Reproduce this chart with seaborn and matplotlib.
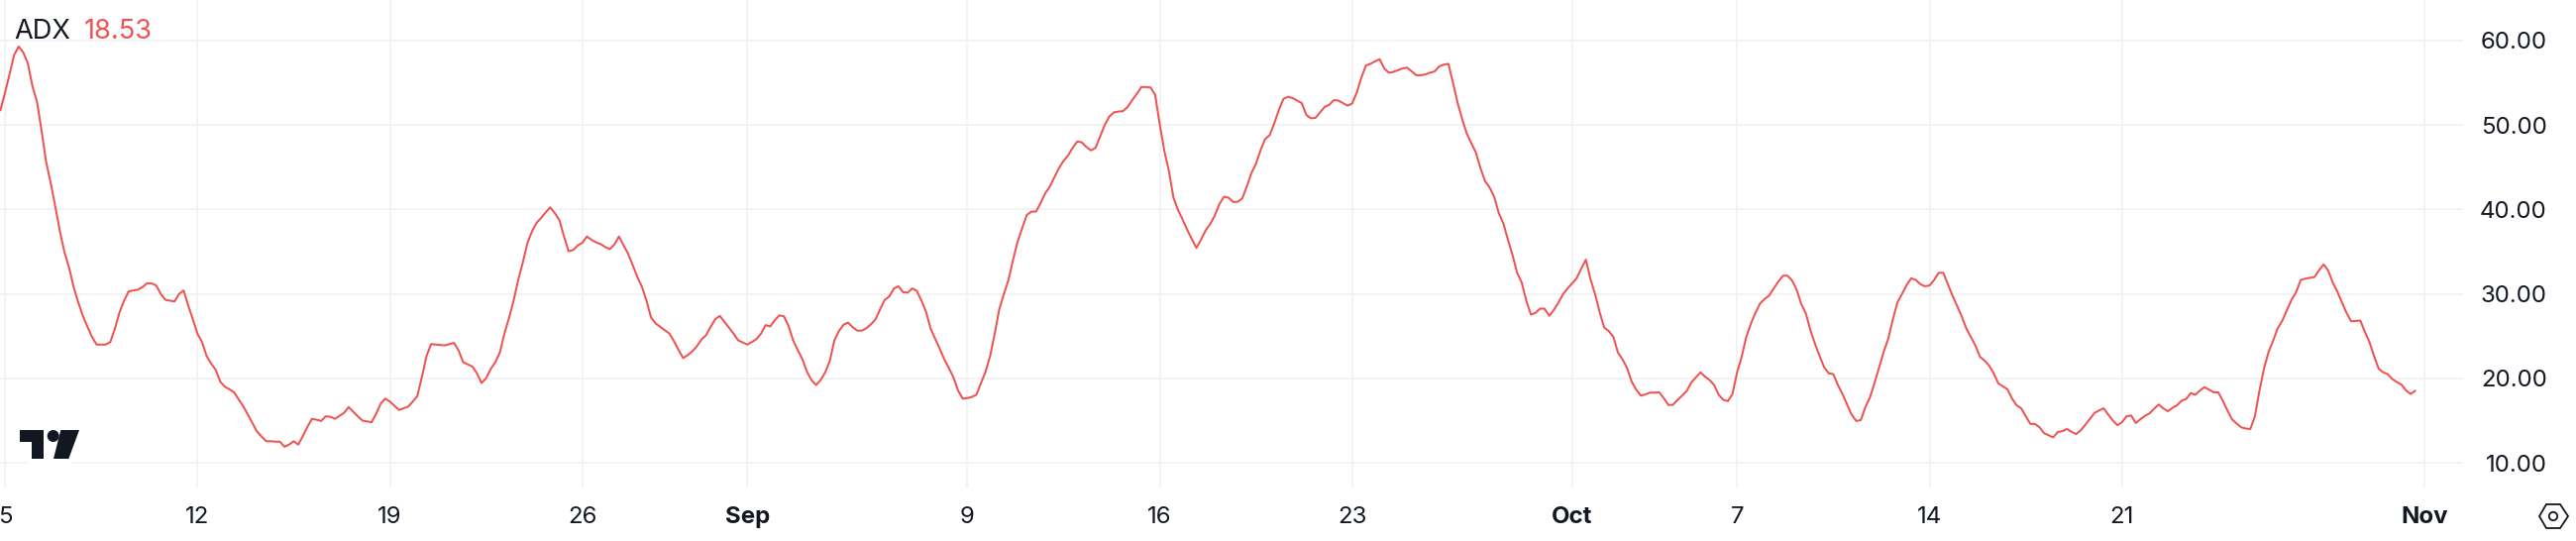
import seaborn as sns
import matplotlib.pyplot as plt
import pandas as pd
from matplotlib.patches import Polygon, Circle, Rectangle
from matplotlib.transforms import IdentityTransform

# 4 hour bars
first_bar = "2024-08-04 20:00"
adx_aug = [
    51.73, 53.8, 56.0, 58.3, 59.3, 58.6, 57.3, 54.6, 52.75, 49.3, 45.6, 43.1, 40.3, 37.4, 34.9, 33.1,
    30.8, 29.0, 27.4, 26.1, 24.9, 24.0, 24.0, 24.0, 24.3, 25.9, 27.8, 29.2, 30.3, 30.4, 30.5, 30.8,
    31.25, 31.25, 31.0, 30.0, 29.3, 29.2, 29.1, 30.0, 30.4, 28.6, 27.0, 25.3, 24.3, 22.65, 21.75, 21.0,
    19.6, 19.0, 18.7, 18.35, 17.5, 16.7, 15.7, 14.7, 13.7, 13.1, 12.55, 12.55, 12.5, 12.5, 11.9, 12.15,
    12.55, 12.15, 13.15, 14.25, 15.2, 15.1, 14.95, 15.5, 15.45, 15.2, 15.55, 15.9, 16.6, 16.05, 15.5, 15.0,
    14.9, 14.8, 15.8, 17.0, 17.6, 17.25, 16.75, 16.25, 16.45, 16.65, 17.25, 17.9, 20.2, 22.65, 24.05, 24.0,
    23.95, 23.9, 24.05, 24.2, 23.3, 21.9, 21.65, 21.4, 20.6, 19.45, 20.0, 21.1, 21.9, 23.05, 25.3, 27.15,
    29.2, 31.65, 33.7, 36.0, 37.4, 38.4, 39.0, 39.65, 40.25, 39.55, 38.75, 36.8, 35.05, 35.2, 35.75, 36.05,
    36.8, 36.4, 36.1, 35.9, 35.55, 35.3, 35.85, 36.8, 35.75, 34.75, 33.4, 32.0, 30.85,
]
adx_sep = [
    29.2, 27.2, 26.5, 26.1, 25.7, 25.3, 24.4, 23.35, 22.4, 22.75, 23.2, 23.8, 24.6, 25.1, 26.1, 27.0,
    27.4, 26.7, 26.0, 25.3, 24.5, 24.25, 24.0, 24.3, 24.65, 25.3, 26.3, 26.15, 26.9, 27.45, 27.35, 26.2,
    24.5, 23.35, 22.3, 20.8, 19.8, 19.2, 19.8, 20.7, 22.05, 24.5, 25.6, 26.35, 26.6, 26.05, 25.65, 25.65,
    25.95, 26.4, 27.0, 28.2, 29.3, 29.7, 30.65, 30.9, 30.2, 30.15, 30.65, 30.35, 29.2, 27.9, 25.9, 24.7,
    23.5, 22.25, 21.2, 20.1, 18.55, 17.6, 17.65, 17.8, 18.05, 19.45, 20.8, 22.65, 25.3, 28.2, 30.0, 31.65,
    34.05, 36.2, 37.8, 39.35, 39.75, 39.75, 40.75, 41.9, 42.7, 43.8, 44.9, 45.75, 46.4, 47.3, 48.05, 47.95,
    47.4, 47.0, 47.3, 48.65, 50.0, 51.0, 51.5, 51.6, 51.65, 52.15, 52.95, 53.7, 54.5, 54.5, 54.45, 53.6,
    50.1, 46.95, 44.55, 41.4, 39.95, 38.8, 37.6, 36.5, 35.45, 36.4, 37.5, 38.25, 39.25, 40.6, 41.5, 41.4,
    40.9, 40.9, 41.3, 42.7, 44.3, 45.4, 47.0, 48.35, 48.8, 50.2, 51.8, 53.1, 53.35,
    53.2, 52.9, 52.6, 51.2, 50.8, 50.85, 51.5, 52.15, 52.4, 52.95, 52.9, 52.6, 52.3, 52.55, 53.85, 55.6,
    57.05, 57.25, 57.55, 57.8, 56.7, 56.2, 56.3, 56.5, 56.7, 56.8, 56.35, 55.9, 55.9, 56.0, 56.2, 56.35,
    56.95, 57.15, 57.25, 55.0, 52.65, 50.7, 49.0, 47.85, 46.75, 44.9, 43.35, 42.6, 41.5, 39.55, 38.35, 36.4,
    34.6, 32.5, 31.35, 29.2, 27.55, 27.75, 28.25, 28.25, 27.4, 28.1, 28.95, 29.95, 30.65, 31.25, 31.85, 33.0,
]
adx_oct = [
    34.05, 31.75, 30.0, 27.85, 26.0, 25.6, 24.9, 23.05, 22.25, 21.2, 19.6, 18.65, 17.95, 18.1, 18.3, 18.3,
    18.35, 17.65, 16.85, 16.85, 17.45, 17.95, 18.5, 19.5, 20.1, 20.7, 20.2, 19.8, 19.2, 18.05, 17.45, 17.3,
    18.15, 20.7, 22.55, 24.9, 26.45, 27.75, 28.85, 29.4, 29.8, 30.65, 31.45, 32.15, 32.15, 31.6, 30.5, 28.8,
    27.7, 25.7, 24.1, 22.65, 21.3, 20.6, 20.5, 19.2, 18.15, 16.9, 15.7, 14.95, 15.05, 16.6, 17.75, 19.45,
    21.3, 23.15, 24.7, 27.0, 29.0, 30.0, 31.05, 31.85, 31.65, 31.15, 30.9, 31.0, 31.65, 32.5, 32.5, 31.15,
    29.8, 28.6, 27.35, 25.95, 24.9, 23.9, 22.55, 22.1, 21.5, 20.6, 19.4, 19.05, 18.7, 17.6, 16.8, 16.45,
    15.5, 14.6, 14.6, 14.2, 13.5, 13.25, 13.0, 13.65, 13.75, 14.0, 13.65, 13.4, 13.85, 14.5, 15.2, 15.9,
    16.2, 16.45, 15.7, 15.0, 14.45, 14.8, 15.5, 15.6, 14.7, 15.15, 15.55, 15.85, 16.4, 16.9, 16.45, 16.1,
    16.5, 16.8, 17.35, 17.55, 18.25, 18.05, 18.55, 18.95, 18.65, 18.35, 18.35, 17.35, 16.2, 15.15, 14.65, 14.2,
    14.05, 14.0, 15.5, 18.55, 21.2, 23.15, 24.5, 25.95, 26.85, 28.1, 29.3, 30.2, 31.65, 31.8, 31.9, 32.0,
    32.8, 33.5, 32.75, 31.35, 30.25, 29.0, 27.75, 26.75, 26.8, 26.85, 25.5, 24.3, 22.65, 21.15, 20.7, 20.5,
    19.9, 19.55, 19.25, 18.55, 18.15, 18.53,
]

tick_dates = ["2024-08-05", "2024-08-12", "2024-08-19", "2024-08-26", "2024-09-01", "2024-09-09", "2024-09-16",
              "2024-09-23", "2024-10-01", "2024-10-07", "2024-10-14", "2024-10-21", "2024-11-01"]
tick_labels = ["5", "12", "19", "26", "Sep", "9", "16", "23", "Oct", "7", "14", "21", "Nov"]
month_labels = ["Sep", "Oct", "Nov"]
y_ticks = [10, 20, 30, 40, 50, 60]

INK = "#131722"
RED = "#EF5350"
GRID = "#F2F3F5"

adx = adx_aug + adx_sep + adx_oct
data = pd.DataFrame({"time": pd.date_range(first_bar, periods=len(adx), freq="4h"), "adx": adx})

sns.set_theme(style="white")
plt.rcParams["font.family"] = ["Inter", "DejaVu Sans"]

fig = plt.figure(figsize=(26, 5.46), dpi=100)
ax = fig.add_axes([0, 54 / 546, 2486 / 2600, 492 / 546])

sns.lineplot(data=data, x="time", y="adx", color=RED, linewidth=1.45, ax=ax, zorder=3)

ax.set_xlim(pd.Timestamp("2024-08-05") - pd.Timedelta(hours=4.32), pd.Timestamp("2024-11-01") + pd.Timedelta(hours=33.7))
ax.set_ylim(7.07, 64.81)
ax.set_xlabel("")
ax.set_ylabel("")
ax.set_xticks(pd.to_datetime(tick_dates))
ax.set_xticklabels(tick_labels, fontsize=17.3, color=INK)
for lab in ax.get_xticklabels():
    if lab.get_text() in month_labels:
        lab.set_fontweight("bold")
ax.yaxis.tick_right()
ax.set_yticks(y_ticks)
ax.set_yticklabels([f"{v:.2f}" for v in y_ticks], fontsize=17.3, color=INK, ha="right")
ax.tick_params(axis="x", length=0, pad=14)
ax.tick_params(axis="y", length=0, pad=61)
ax.grid(True, color=GRID, linewidth=1.4)
ax.set_axisbelow(True)
sns.despine(ax=ax, left=True, right=True, top=True, bottom=True)

# legend text
fig.text(14 / 2600, 1 - 32 / 546, "ADX", fontsize=19.6, color=INK, va="center", ha="left")
fig.text(85 / 2600, 1 - 32 / 546, "18.53", fontsize=19.6, color=RED, va="center", ha="left")


def px(points):
    return [(x, 546 - y) for x, y in points]


# logo, with the white gap it leaves in the grid
pix = IdentityTransform()
fig.add_artist(Rectangle((28, 546 - 471), 43, 8, color="white", transform=pix, zorder=5))
t_shape = [(20, 434), (44, 434), (44, 463), (32, 463), (32, 446), (20, 446)]
slash = [(61.3, 434), (80, 434), (69.3, 463), (54, 463)]
fig.add_artist(Polygon(px(t_shape), closed=True, color=INK, lw=0, transform=pix, zorder=6))
fig.add_artist(Polygon(px(slash), closed=True, color=INK, lw=0, transform=pix, zorder=6))
fig.add_artist(Circle((53.7, 546 - 440), 6, color=INK, lw=0, transform=pix, zorder=6))

# settings icon
hexagon = [(2563, 521), (2570, 509), (2584, 509), (2592, 521), (2584, 533), (2570, 533)]
fig.add_artist(Polygon(px(hexagon), closed=True, fill=False, edgecolor=INK, lw=1.3, transform=pix, zorder=6))
fig.add_artist(Circle((2577, 546 - 521), 4.2, fill=False, edgecolor=INK, lw=1.3, transform=pix, zorder=6))

fig.savefig("out.png", dpi=100, facecolor="white")
